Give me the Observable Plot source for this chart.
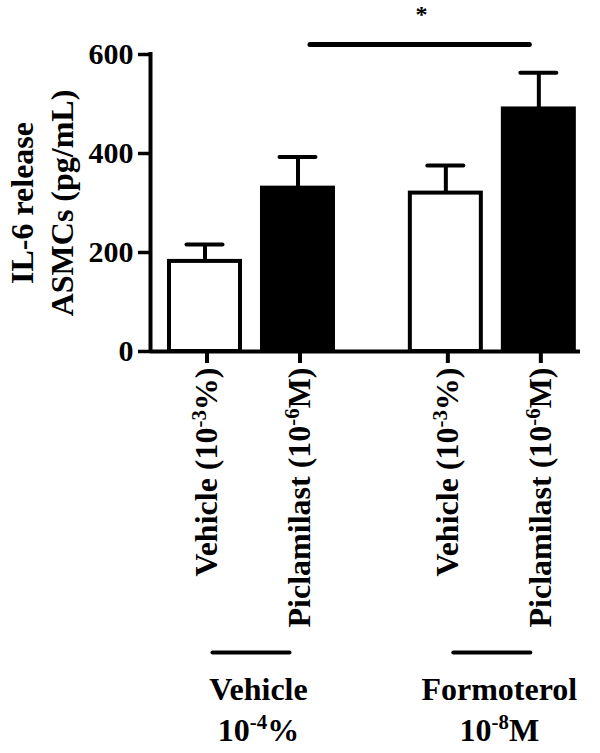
<!DOCTYPE html>
<html>
<head>
<meta charset="utf-8">
<script src="https://cdn.jsdelivr.net/npm/d3@7"></script>
<script src="https://cdn.jsdelivr.net/npm/@observablehq/plot@0.6"></script>
<style>
  html, body { margin: 0; padding: 0; background: #fff; }
</style>
</head>
<body>
<div id="chart"></div>
<script>
// ---- data ----
const groups = ["Vehicle\n10^{-4}%", "Formoterol\n10^{-8}M"];
const treatments = ["Vehicle (10^{-3}%)", "Piclamilast (10^{-6}M)"];
const means = [182, 330, 320, 490];   // IL-6 release (pg/mL), mean
const sems  = [34, 63, 56, 73];       // upward error (SEM)
const yTicks = [0, 200, 400, 600];
const yTitle = "IL-6 release\nASMCs (pg/mL)";
const comparisons = [{from: 1, to: 3, label: "*"}];

// ---- style / layout ----
const treatmentFill = ["white", "black"];
const groupGap = 0.59;
const xDomain = [-0.586, 4.038];
const sigLevel = 620;
const font = "'Liberation Serif', 'Times New Roman', serif";

const rows = [];
groups.forEach((g, gi) => treatments.forEach((t, ti) => {
  const i = gi * treatments.length + ti;
  rows.push({group: g, treatment: t, gi, ti,
    pos: ti + gi * (treatments.length + groupGap),
    mean: means[i], sem: sems[i]});
}));
const groupRows = groups.map((g, gi) => ({
  group: g,
  center: d3.mean(rows.filter(r => r.gi === gi), r => r.pos)
}));
const sigRows = comparisons.map(c => ({...c, x1: rows[c.from].pos, x2: rows[c.to].pos}));

const chart = Plot.plot({
  width: 600, height: 753,
  marginTop: 54, marginBottom: 402, marginLeft: 150, marginRight: 20,
  style: {fontFamily: font, fontWeight: "bold", background: "white", color: "black", overflow: "visible"},
  x: {type: "linear", domain: xDomain},
  y: {domain: [0, 600]},
  color: {type: "identity"},
  marks: [
    Plot.rectY(rows, {x1: "pos", x2: "pos", y1: () => 0, y2: "mean",
      insetLeft: -35.5, insetRight: -35.5,
      fill: d => treatmentFill[d.ti], stroke: "black", strokeWidth: 4}),
    Plot.ruleX(rows, {x: "pos", y1: "mean", y2: d => d.mean + d.sem, strokeWidth: 4}),
    Plot.ruleY(rows, {x1: "pos", x2: "pos", y: d => d.mean + d.sem,
      insetLeft: -18, insetRight: -18, strokeWidth: 4, strokeLinecap: "round"}),
    Plot.ruleY([0], {strokeWidth: 4}),
    Plot.ruleX([xDomain[0]], {y1: () => 0, y2: () => 600, strokeWidth: 4, strokeLinecap: "square"}),
    Plot.axisY({ticks: yTicks, tickSize: 12, tickPadding: 5, fontSize: 30, strokeWidth: 3.5, label: null}),
    Plot.axisX({ticks: rows.map(r => r.pos), tickFormat: d => (rows.find(r => r.pos === d) || {}).treatment,
      tickSize: 12, tickPadding: 4, tickRotate: -90, fontSize: 32, strokeWidth: 4, label: null, dx: 2}),
    Plot.ruleY(sigRows, {x1: "x1", x2: "x2", y: () => sigLevel,
      insetLeft: 12.5, insetRight: 9, strokeWidth: 5, strokeLinecap: "round"}),
    Plot.text(sigRows, {x: d => (d.x1 + d.x2) / 2, y: () => sigLevel, text: "label",
      fontSize: 24, lineAnchor: "bottom", dx: 3, dy: -23}),
    Plot.ruleY(groupRows, {x1: "center", x2: "center", y: () => 0, dy: 301,
      insetLeft: -38.5, insetRight: -38.5, strokeWidth: 4, strokeLinecap: "round"}),
    Plot.text(groupRows, {x: "center", frameAnchor: "bottom", text: "group",
      lineAnchor: "top", lineHeight: 1.28, fontSize: 32, dx: 7, dy: 319}),
    Plot.text([yTitle], {frameAnchor: "left", text: d => d, rotate: -90, textAnchor: "middle",
      lineAnchor: "middle", lineHeight: 1.22, fontSize: 32, dx: -110})
  ]
});
document.getElementById("chart").appendChild(chart);

// superscripts: turn "^{...}" into raised tspans
(function applySup(svg) {
  const walker = document.createTreeWalker(svg, NodeFilter.SHOW_TEXT);
  const nodes = [];
  while (walker.nextNode()) if (walker.currentNode.nodeValue.includes("^{")) nodes.push(walker.currentNode);
  const NS = "http://www.w3.org/2000/svg";
  for (const node of nodes) {
    const parts = node.nodeValue.split(/\^\{([^}]*)\}/);
    const frag = document.createDocumentFragment();
    let afterSup = false;
    parts.forEach((p, i) => {
      if (i % 2 === 1) {
        const s = document.createElementNS(NS, "tspan");
        s.setAttribute("style", "font-size:0.65em");
        s.setAttribute("dy", "-0.55em");
        s.textContent = p;
        frag.appendChild(s);
        afterSup = true;
      } else if (p) {
        if (afterSup) {
          const s = document.createElementNS(NS, "tspan");
          s.setAttribute("dy", "0.3575em");
          s.textContent = p;
          frag.appendChild(s);
        } else {
          frag.appendChild(document.createTextNode(p));
        }
        afterSup = false;
      }
    });
    node.parentNode.replaceChild(frag, node);
  }
})(chart);
</script>
</body>
</html>
